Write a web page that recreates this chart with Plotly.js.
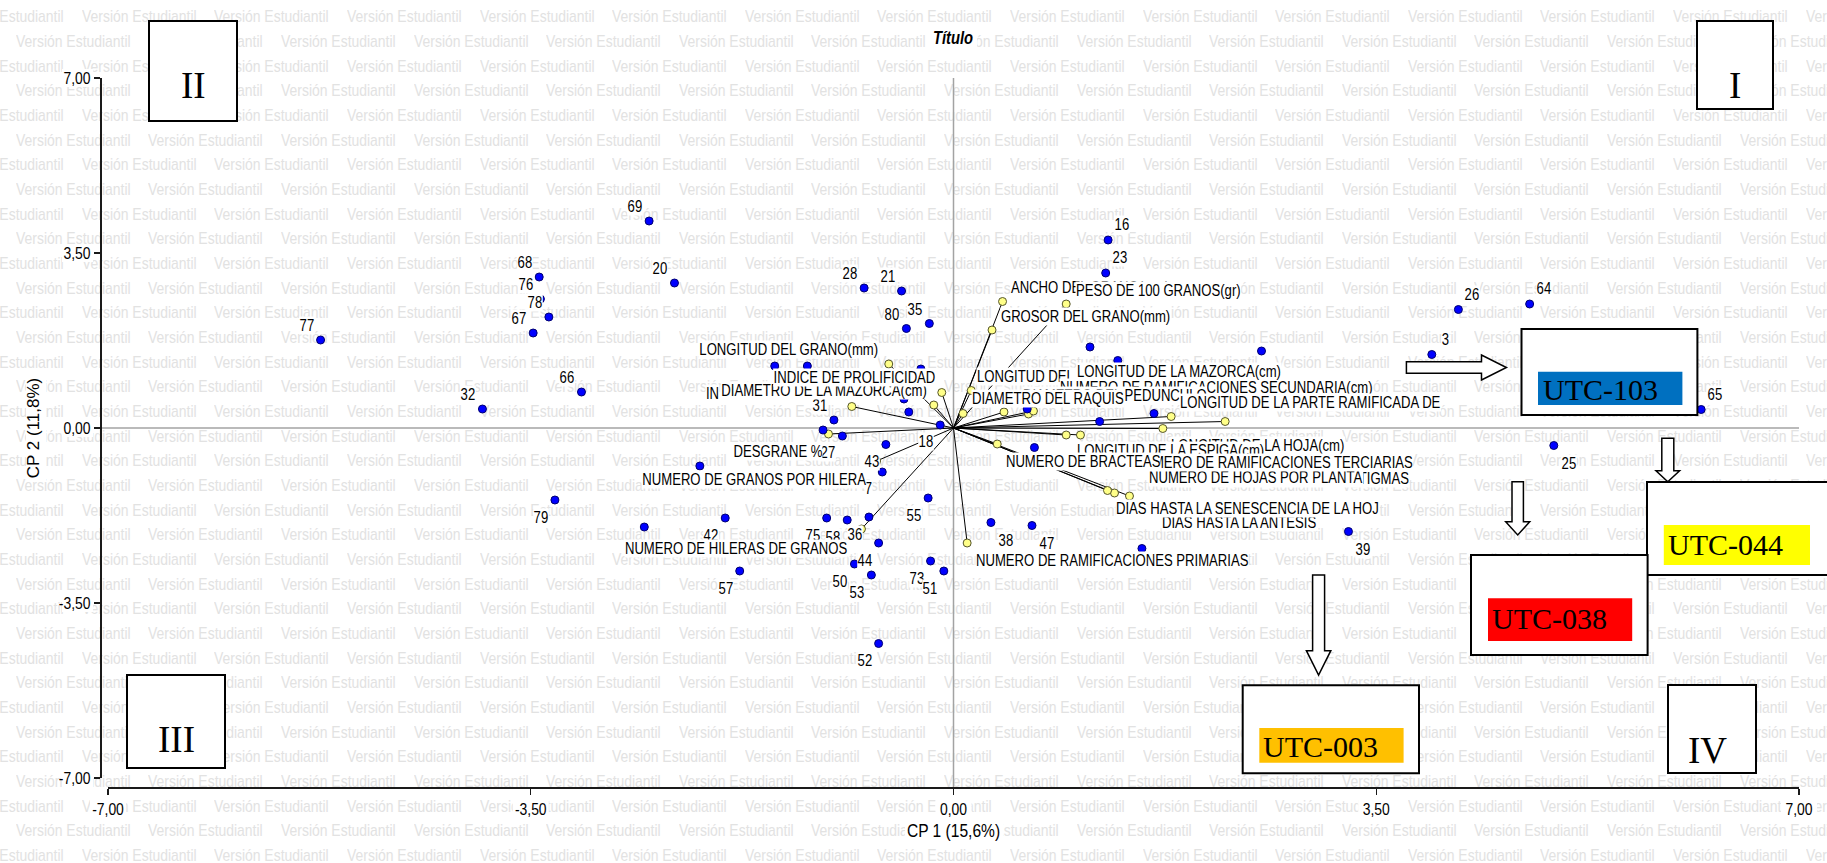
<!DOCTYPE html>
<html><head><meta charset="utf-8">
<script src="https://cdn.plot.ly/plotly-3.0.1.min.js"></script>
<style>
html,body{margin:0;padding:0;background:#fff;}
#wm{position:absolute;left:0;top:0;width:1827px;height:863px;overflow:hidden;z-index:0;}
#wm span{position:absolute;white-space:nowrap;font-family:'Liberation Sans',Arial,sans-serif;font-size:17px;line-height:17px;color:#e2e2e2;transform:scaleX(0.82);transform-origin:0 50%;}
#chart{position:absolute;left:0;top:0;width:1827px;height:863px;z-index:1;}
</style></head><body>
<div id="wm"></div><div id="chart"></div>
<script>
// ---------------- DATA ----------------
// observation scores (CP1, CP2); empty id = label hidden in the original
const ptIds = ['77','32','68','76','78','67','66','79','69','20','28','21','80','35','16','23','26','64','3','65','25','39','38','47','31','27','18','43','7','55','42','75','58','36','44','50','53','57','73','51','52',
  '','','','','','','','','','','','','','','',''];
const ptX = [-5.24,-3.90,-3.43,-3.42,-3.35,-3.48,-3.08,-3.30,-2.52,-2.31,-0.74,-0.43,-0.39,-0.20,1.28,1.26,4.18,4.77,3.96,6.19,4.97,3.27,0.31,0.65,-0.99,-0.92,-0.11,-0.56,-0.59,-0.21,-1.89,-1.05,-0.88,-0.70,-0.62,-0.82,-0.68,-1.77,-0.19,-0.08,-0.62,
  -1.48,-1.21,-0.27,-0.41,-0.37,-1.08,-2.10,-2.56,1.13,1.36,2.55,1.21,1.66,0.61,0.67,1.56];
const ptY = [1.76,0.38,3.02,2.58,2.22,1.90,0.72,-1.44,4.14,2.90,2.80,2.74,1.99,2.09,3.76,3.10,2.37,2.48,1.47,0.37,-0.35,-2.07,-1.89,-1.95,0.16,-0.16,0.06,-0.33,-0.88,-1.40,-1.80,-1.80,-1.84,-1.78,-2.30,-2.72,-2.94,-2.86,-2.66,-2.86,-4.31,
  1.24,1.24,1.18,0.58,0.32,-0.04,-0.76,-1.98,1.62,1.35,1.54,0.13,0.29,0.38,-0.39,-2.41];

// variable vectors (endpoint coordinates), in drawing order of their labels
const varNames = ['ANCHO DEL GRANO(mm)','PESO DE 100 GRANOS(gr)','GROSOR DEL GRANO(mm)',
  'LONGITUD DEL','NUMERO DE RAMIFICACIONES SECUNDARIA(cm)','LONGITUD DE LA MAZORCA(cm)','DIAMETRO DEL PEDUNCULO','DIAMETRO DEL RAQUIS','LONGITUD DE LA PARTE RAMIFICADA DE',
  'DIAS HASTA LA EMISION DE ESTIGMAS','NUMERO DE HOJAS POR PLANTA','LONGITUD DE LA HOJA(cm)','LONGITUD DE LA ESPIGA(cm)','NUMERO DE RAMIFICACIONES TERCIARIAS','NUMERO DE BRACTEAS',
  'DIAS HASTA LA ANTESIS','DIAS HASTA LA SENESCENCIA DE LA HOJ','NUMERO DE RAMIFICACIONES PRIMARIAS',
  'IN','DIAMETRO DE LA MAZORCA(cm)','INDICE DE PROLIFICIDAD','LONGITUD DEL GRANO(mm)','DESGRANE %','NUMERO DE GRANOS POR HILERA','NUMERO DE HILERAS DE GRANOS'];
const varX = [0.406,0.933,0.319, 0.147,0.621,0.662,0.418,0.079,2.249, 1.333,0.933,1.733,1.802,1.051,0.362, 1.457,1.275,0.113, -0.842,-0.163,-0.097,-0.536,-1.035,-0.637,-0.762];
const varY = [2.53,2.48,1.96, 0.75,0.28,0.34,0.32,0.29,0.13, -1.30,-0.14,-0.01,0.23,-0.14,-0.32, -1.36,-1.25,-2.30, 0.43,0.46,0.71,1.28,-0.12,-0.66,-2.02];

const tickVals = [-7, -3.5, 0, 3.5, 7];
const tickText = ['-7,00', '-3,50', '0,00', '3,50', '7,00'];

// ---------------- LAYOUT HELPERS (positions/styles) ----------------
const W = 1827, H = 863;
const X0 = 108, X1 = 1799, Y0 = 78, Y1 = 778;
const px = v => v / W, py = v => 1 - v / H;
const dx2px = v => X0 + (v + 7) / 14 * (X1 - X0);
const dy2px = v => Y1 - (v + 7) / 14 * (Y1 - Y0);
const FN = 'Liberation Sans, Arial, sans-serif';
const SERIF = 'Liberation Serif, Times New Roman, serif';
const NARROW = 0.82;

// number-label placement around each point
const ptLab = ['ul','ul','ul','ul','ul','ul','ul','bl','ul','ul','ul','ul','ul','ul','ur','ur','ur','ur','ur','ur','br','br','br','br','ul','bl','bl','bl','bl','bl','bl','bl','bl','bl','bl','bl','bl','bl','bl','bl','bl'];
const labOff = {ul:[-14,-14], bl:[-14,17], br:[15,18], ur:[14,-15]};
// variable label anchor positions (data units) and side
const varLabX = [0.468,1.002,0.381, 0.185,0.877,1.018,0.571,0.147,1.871, 3.783,1.614,1.796,1.016,1.482,0.428, 1.714,1.341,0.174, -2.061,-0.215,-0.149,-0.615,-1.084,-0.720,-0.877];
const varLabY = [2.80,2.74,2.23, 1.03,0.81,1.13,0.64,0.58,0.51, -1.02,-0.99,-0.35,-0.45,-0.69,-0.67, -1.89,-1.61,-2.65, 0.68,0.74,1.00,1.56,-0.48,-1.04,-2.40];
const varLabSide = ['L','L','L','L','L','L','L','L','L','R','L','L','L','L','L','L','L','L','L','R','R','R','R','R','R'];

// watermark
(function(){
  const wm = document.getElementById('wm');
  let html = '';
  for (let k = 0; k < 36; k++) {
    const yc = 17.3 + 24.67 * k;
    let x = (k % 2 === 0) ? -50.8 : 15.8;
    for (; x < W; x += 132.6) {
      html += '<span style="left:' + x.toFixed(1) + 'px;top:' + (yc - 9).toFixed(1) + 'px">Versión Estudiantil</span>';
    }
  }
  wm.innerHTML = html;
})();

// ---------------- TRACES ----------------
const lx = [], ly = [];
varX.forEach((v, i) => { lx.push(0, v, null); ly.push(0, varY[i], null); });
const traces = [
  {type:'scatter', mode:'lines', x:lx, y:ly, line:{color:'#000', width:1}, hoverinfo:'skip'},
  {type:'scatter', mode:'markers', x:varX, y:varY, text:varNames,
   marker:{size:8, color:'#ffff88', line:{color:'#55552a', width:1}}, hoverinfo:'text'},
  {type:'scatter', mode:'markers', x:ptX, y:ptY, text:ptIds,
   marker:{size:8, color:'#0000ff', line:{color:'#000070', width:1}}, hoverinfo:'text'}
];

// ---------------- SHAPES ----------------
const shapes = [];
const rectPx = (x0,y0,x1,y1,fill,lw,layer) => shapes.push({type:'rect', xref:'paper', yref:'paper',
  x0:px(x0), x1:px(x1), y0:py(y1), y1:py(y0), fillcolor:fill, line:{color:'#000', width:lw}, layer:layer||'above'});
// white backgrounds behind title / tick labels / axis titles
rectPx(930,27,977,50,'#fff',0,'below');
rectPx(905,821,1003,843,'#fff',0,'below');
rectPx(26,372,46,482,'#fff',0,'below');
tickVals.forEach(v => {
  const x = dx2px(v); rectPx(x-18,797,x+18,815,'#fff',0,'below');
  const y = dy2px(v); rectPx(62,y-9,93,y+9,'#fff',0,'below');
});
// zero lines
shapes.push({type:'line', xref:'x', yref:'paper', x0:0, x1:0, y0:py(787), y1:py(Y0), line:{color:'#a3a3a3', width:1.5}, layer:'below'});
shapes.push({type:'line', xref:'paper', yref:'y', x0:px(100), x1:px(X1), y0:0, y1:0, line:{color:'#a3a3a3', width:1.5}, layer:'below'});
// quadrant boxes
rectPx(149,21,237,121,'#fff',2);
rectPx(1697,21,1773,109,'#fff',2);
rectPx(127,675,225,768,'#fff',2);
rectPx(1668,685,1756,773,'#fff',2);
// UTC boxes
rectPx(1521.5,329,1697.4,415,'#fff',2);
rectPx(1647,482,1832,575,'#fff',2);
rectPx(1471,555,1647.6,655,'#fff',2);
rectPx(1242.7,685.3,1419,773.3,'#fff',2);
rectPx(1538,371.7,1682.4,405,'#0070c0',0);
rectPx(1663.8,525,1810,565,'#ffff00',0);
rectPx(1488,598.3,1632.2,641,'#ff0000',0);
rectPx(1259.3,728,1403.6,762.7,'#ffc000',0);
// arrows
const P = (x,y) => px(x).toFixed(5) + ',' + py(y).toFixed(5);
const pathShape = pts => shapes.push({type:'path', xref:'paper', yref:'paper',
  path:'M' + pts.map(p => P(p[0],p[1])).join(' L') + ' Z', fillcolor:'#fff', line:{color:'#000', width:1.5}, layer:'above'});
pathShape([[1406.4,361.7],[1481.5,361.7],[1481.5,355],[1506.4,367.5],[1481.5,380],[1481.5,373.3],[1406.4,373.3]]);
const downArrow = (cx,top,hy,tip,sh,hh) => pathShape([[cx-sh,top],[cx+sh,top],[cx+sh,hy],[cx+hh,hy],[cx,tip],[cx-hh,hy],[cx-sh,hy]]);
downArrow(1667.8,438.3,470.7,481.7,6,11.8);
downArrow(1517.7,481.7,521.7,535,5.7,12);
downArrow(1318.6,575,650.7,675,6,12.2);

// ---------------- ANNOTATIONS ----------------
const ann = [], annSqueeze = [];
ptIds.forEach((id, i) => {
  if (!id) return;
  const o = labOff[ptLab[i]];
  ann.push({x:ptX[i], y:ptY[i], xref:'x', yref:'y', text:id, showarrow:false,
    xanchor:'center', yanchor:'middle', xshift:o[0], yshift:-o[1],
    font:{family:FN, size:16, color:'#000'}, bgcolor:'#fff', borderpad:0});
  annSqueeze.push('center');
});
varNames.forEach((nm, i) => {
  const side = varLabSide[i] === 'L' ? 'left' : 'right';
  ann.push({x:varLabX[i], y:varLabY[i], xref:'x', yref:'y', text:nm, showarrow:false,
    xanchor:side, yanchor:'middle',
    font:{family:FN, size:16, color:'#000'}, bgcolor:'#fff', borderpad:0});
  annSqueeze.push(side);
});
const txtPx = (x,y,t,size,anchor) => { ann.push({xref:'paper', yref:'paper', x:px(x), y:py(y), text:t, showarrow:false,
  xanchor:anchor||'center', yanchor:'middle', font:{family:SERIF, size:size, color:'#000'}}); annSqueeze.push(null); };
txtPx(193,86,'II',37); txtPx(1735,86,'I',37); txtPx(176,739,'III',37); txtPx(1707,750,'IV',37);
txtPx(1541,389,'UTC-103',30,'left'); txtPx(1666,544,'UTC-044',30,'left');
txtPx(1490,618,'UTC-038',30,'left'); txtPx(1261,746,'UTC-003',30,'left');

const layout = {
  width:W, height:H, margin:{l:0,r:0,t:0,b:0},
  paper_bgcolor:'rgba(0,0,0,0)', plot_bgcolor:'rgba(0,0,0,0)', showlegend:false,
  title:{text:'<b><i>Título</i></b>', font:{family:FN, size:18, color:'#000'}, x:px(953), xanchor:'center', y:py(38), yanchor:'middle', xref:'paper', yref:'paper'},
  xaxis:{domain:[px(X0), px(X1)], range:[-7,7], anchor:'free', position:py(787), showline:true, linecolor:'#1a1a1a', linewidth:1.5,
    ticks:'outside', ticklen:6, tickwidth:1.2, tickcolor:'#1a1a1a', tickvals:tickVals, ticktext:tickText,
    tickfont:{family:FN, size:17, color:'#000'}, showgrid:false, zeroline:false, fixedrange:true,
    title:{text:'CP 1 (15,6%)', font:{family:FN, size:19, color:'#000'}, standoff:6}},
  yaxis:{domain:[py(Y1), py(Y0)], range:[-7,7], anchor:'free', position:px(100), showline:true, linecolor:'#1a1a1a', linewidth:1.5,
    ticks:'outside', ticklen:6, tickwidth:1.2, tickcolor:'#1a1a1a', tickvals:tickVals, ticktext:tickText,
    tickfont:{family:FN, size:17, color:'#000'}, showgrid:false, zeroline:false, fixedrange:true,
    title:{text:'CP 2 (11,8%)', font:{family:FN, size:17, color:'#000'}, standoff:6}},
  shapes:shapes, annotations:ann
};

// condense Arial-metric text horizontally (the original uses a narrow sans face)
function squeeze(el, anchor, s) {
  const r = el.getBoundingClientRect();
  if (!r.width) return;
  const sx = anchor === 'left' ? r.left : anchor === 'right' ? r.right : (r.left + r.right) / 2;
  const svg = el.ownerSVGElement; if (!svg) return;
  const pt = svg.createSVGPoint(); pt.x = sx; pt.y = r.top;
  const ctm = el.parentNode.getScreenCTM(); if (!ctm) return;
  const p = pt.matrixTransform(ctm.inverse());
  const prev = el.getAttribute('transform') || '';
  el.setAttribute('transform', 'translate(' + p.x + ',0) scale(' + s + ',1) translate(' + (-p.x) + ',0) ' + prev);
}

Plotly.newPlot('chart', traces, layout, {displayModeBar:false, staticPlot:true}).then(gd => {
  gd.querySelectorAll('g.annotation').forEach(g => {
    const idx = +g.getAttribute('data-index');
    const a = annSqueeze[idx];
    if (a) squeeze(g, a, NARROW);
  });
  gd.querySelectorAll('g.xtick text').forEach(t => squeeze(t, 'center', NARROW));
  gd.querySelectorAll('g.ytick text').forEach(t => squeeze(t, 'right', NARROW));
  const tt = gd.querySelector('.g-gtitle text'); if (tt) squeeze(tt, 'center', NARROW);
  const xt = gd.querySelector('.g-xtitle text'); if (xt) squeeze(xt, 'center', NARROW);
});
</script>
</body></html>
